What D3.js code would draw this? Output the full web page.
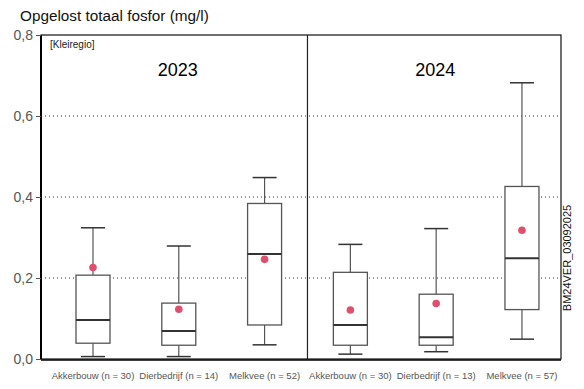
<!DOCTYPE html>
<html><head><meta charset="utf-8">
<script src="https://cdn.jsdelivr.net/npm/d3@7"></script>
<style>body{margin:0;background:#fff}svg{display:block;font-family:"Liberation Sans",Arial,sans-serif}</style>
</head><body><svg id="c" width="584" height="389"></svg>
<script>
const years = ["2023", "2024"];
const categories = ["Akkerbouw (n = 30)", "Dierbedrijf (n = 14)", "Melkvee (n = 52)",
                    "Akkerbouw (n = 30)", "Dierbedrijf (n = 13)", "Melkvee (n = 57)"];
const whiskerLow  = [0.006, 0.006, 0.035, 0.012, 0.018, 0.049];
const q1          = [0.039, 0.034, 0.084, 0.034, 0.034, 0.122];
const medians     = [0.096, 0.069, 0.259, 0.084, 0.054, 0.249];
const q3          = [0.207, 0.138, 0.384, 0.214, 0.160, 0.426];
const whiskerHigh = [0.324, 0.279, 0.448, 0.283, 0.322, 0.682];
const means       = [0.226, 0.123, 0.246, 0.121, 0.137, 0.318];
const yTicks = [0, 0.2, 0.4, 0.6, 0.8];
const yTickLabels = ["0,0", "0,2", "0,4", "0,6", "0,8"];

const svg = d3.select("#c");
const x = d3.scaleLinear().domain([0.394, 6.455]).range([41, 561]);
const y = d3.scaleLinear().domain([0, 0.8]).range([359, 35]);
const boxW = 34, capW = 24;

// gridlines
svg.append("g").selectAll("line").data(yTicks.filter(v => v > 0 && v < 0.8)).join("line")
  .attr("x1", 41).attr("x2", 561).attr("y1", d => y(d)).attr("y2", d => y(d))
  .attr("stroke", "#333").attr("stroke-width", 1).attr("stroke-dasharray", "1,3");

// frame
svg.append("rect").attr("x", 41).attr("y", y(0.8)).attr("width", 520).attr("height", y(0) - y(0.8))
  .attr("fill", "none").attr("stroke", "#111").attr("stroke-width", 1.2);
svg.append("line").attr("x1", 41).attr("x2", 41).attr("y1", y(0.8)).attr("y2", y(0)).attr("stroke", "#000").attr("stroke-width", 2);
svg.append("line").attr("x1", 41).attr("x2", 561).attr("y1", y(0)+1).attr("y2", y(0)+1).attr("stroke", "#000").attr("stroke-width", 1.5);
const divX = x(3.5);
svg.append("line").attr("x1", divX).attr("x2", divX).attr("y1", y(0.8)).attr("y2", y(0)).attr("stroke", "#222").attr("stroke-width", 1.2);

// y axis
const yAxis = d3.axisLeft(y).tickValues(yTicks).tickFormat((d, i) => yTickLabels[i]).tickSize(5).tickPadding(3);
const ga = svg.append("g").attr("transform", "translate(41,0)").call(yAxis);
ga.select(".domain").remove();
ga.selectAll("text").attr("font-size", 14).attr("fill", "#555").attr("font-family", "Liberation Sans, Arial, sans-serif");
ga.selectAll("line").attr("stroke", "#555");

// boxes
const idx = d3.range(categories.length);
const g = svg.append("g");
idx.forEach(i => {
  const cx = x(i + 1);
  g.append("line").attr("x1", cx).attr("x2", cx).attr("y1", y(q3[i])).attr("y2", y(whiskerHigh[i])).attr("stroke", "#555").attr("stroke-width", 1.2);
  g.append("line").attr("x1", cx).attr("x2", cx).attr("y1", y(q1[i])).attr("y2", y(whiskerLow[i])).attr("stroke", "#555").attr("stroke-width", 1.2);
  g.append("line").attr("x1", cx - capW/2).attr("x2", cx + capW/2).attr("y1", y(whiskerHigh[i])).attr("y2", y(whiskerHigh[i])).attr("stroke", "#333").attr("stroke-width", 1.5);
  g.append("line").attr("x1", cx - capW/2).attr("x2", cx + capW/2).attr("y1", y(whiskerLow[i])).attr("y2", y(whiskerLow[i])).attr("stroke", "#333").attr("stroke-width", 1.5);
  g.append("rect").attr("x", cx - boxW/2).attr("y", y(q3[i])).attr("width", boxW).attr("height", y(q1[i]) - y(q3[i]))
    .attr("fill", "#fff").attr("stroke", "#555").attr("stroke-width", 1.3);
  g.append("line").attr("x1", cx - boxW/2).attr("x2", cx + boxW/2).attr("y1", y(medians[i])).attr("y2", y(medians[i])).attr("stroke", "#333").attr("stroke-width", 2);
  g.append("circle").attr("cx", cx).attr("cy", y(means[i])).attr("r", 3.8).attr("fill", "#e0506e");
});

// category labels
svg.append("g").selectAll("text").data(categories).join("text")
  .attr("x", (d, i) => x(i + 1)).attr("y", 379).attr("text-anchor", "middle")
  .attr("font-size", 9.5).attr("fill", "#555").text(d => d);

// year labels
svg.append("g").selectAll("text").data(years).join("text")
  .attr("x", (d, i) => x(i * 3 + 2) - 1).attr("y", 76).attr("text-anchor", "middle")
  .attr("font-size", 18).attr("fill", "#000").text(d => d);

svg.append("text").attr("x", 50).attr("y", 48).attr("font-size", 10).attr("fill", "#222").text("[Kleiregio]");
svg.append("text").attr("x", 20).attr("y", 21).attr("font-size", 15.3).attr("fill", "#111").text("Opgelost totaal fosfor (mg/l)");
svg.append("text").attr("transform", "translate(571,258) rotate(-90)").attr("text-anchor", "middle")
  .attr("font-size", 11).attr("fill", "#111").text("BM24VER_03092025");
</script></body></html>
